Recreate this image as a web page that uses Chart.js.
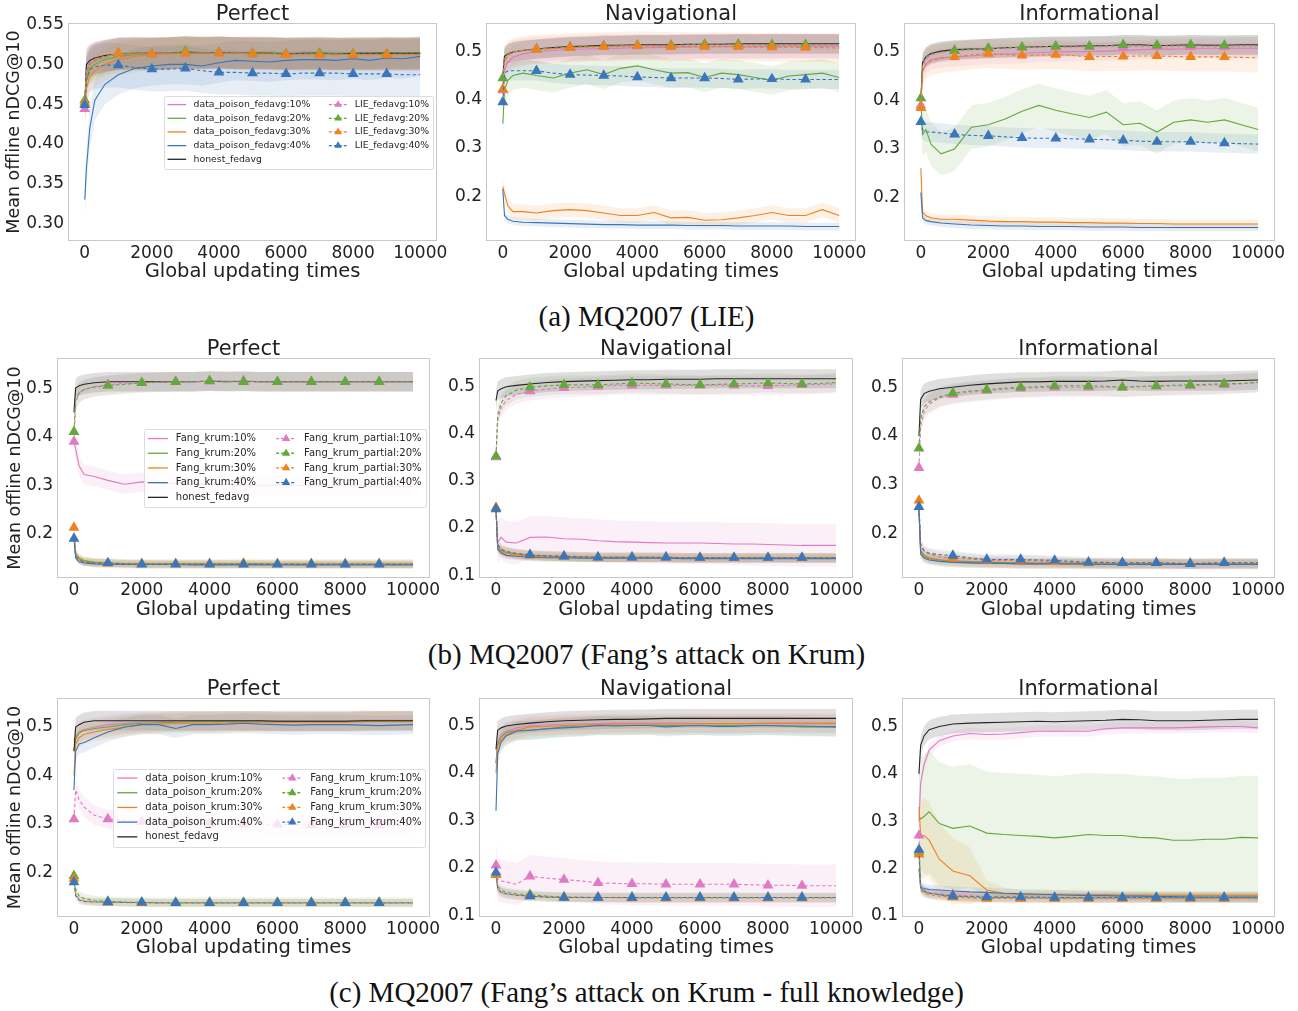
<!DOCTYPE html>
<html>
<head>
<meta charset="utf-8">
<script src="https://cdn.jsdelivr.net/npm/chart.js@4.4.0/dist/chart.umd.min.js"></script>
<style>
  body { margin: 0; background: #fff; }
  #page { position: relative; width: 1298px; height: 1011px; overflow: hidden; background: #fff; }
  #page canvas { position: absolute; }
  .cap { position: absolute; left: 0; width: 1293px; text-align: center; font-family: 'Liberation Serif', 'Times New Roman', serif; font-size: 29px; line-height: 34px; color: #111; }
</style>
</head>
<body>
<div id="page">
  <div class="cap" style="top:299px">(a) MQ2007 (LIE)</div>
  <div class="cap" style="top:637px">(b) MQ2007 (Fang’s attack on Krum)</div>
  <div class="cap" style="top:975px">(c) MQ2007 (Fang’s attack on Krum - full knowledge)</div>
</div>
<script>
// x positions (global updating times) shared by every series
const steps = [0, 50, 150, 300, 600, 1000, 1500, 2000, 2500, 3000, 3500, 4000, 4500, 5000, 5500, 6000, 6500, 7000, 7500, 8000, 8500, 9000, 9500, 10000];
const xTicks = [0, 2000, 4000, 6000, 8000, 10000];
const yTicksA1 = [0.30, 0.35, 0.40, 0.45, 0.50, 0.55];
const yTicks2 = [0.2, 0.3, 0.4, 0.5];
const yTicks1 = [0.1, 0.2, 0.3, 0.4, 0.5];
const rates = ['10%', '20%', '30%', '40%'];
const panelTitles = ['Perfect', 'Navigational', 'Informational'];
const honestName = 'honest_fedavg';
const namesA = ['data_poison_fedavg', 'LIE_fedavg'];
const namesB = ['Fang_krum', 'Fang_krum_partial'];
const namesC = ['data_poison_krum', 'Fang_krum_krum'];

// ---- (a) LIE : Perfect
const a1_s10 = [0.450, 0.495, 0.503, 0.508, 0.511, 0.513, 0.514, 0.514, 0.514, 0.515, 0.514, 0.515, 0.515, 0.515, 0.514, 0.514, 0.514, 0.513, 0.513, 0.513, 0.514, 0.514, 0.514, 0.514];
const a1_s20 = [0.455, 0.480, 0.495, 0.500, 0.506, 0.510, 0.512, 0.513, 0.514, 0.516, 0.515, 0.515, 0.514, 0.515, 0.515, 0.514, 0.514, 0.515, 0.514, 0.514, 0.514, 0.515, 0.514, 0.515];
const a1_s30 = [0.440, 0.470, 0.485, 0.492, 0.500, 0.506, 0.510, 0.512, 0.513, 0.514, 0.514, 0.515, 0.514, 0.514, 0.514, 0.513, 0.513, 0.513, 0.514, 0.513, 0.513, 0.513, 0.513, 0.513];
const a1_s40 = [0.330, 0.370, 0.420, 0.455, 0.475, 0.487, 0.495, 0.498, 0.500, 0.500, 0.498, 0.502, 0.505, 0.504, 0.503, 0.505, 0.506, 0.506, 0.505, 0.507, 0.505, 0.508, 0.507, 0.510];
const a1_h   = [0.450, 0.500, 0.505, 0.508, 0.511, 0.513, 0.514, 0.514, 0.514, 0.515, 0.514, 0.515, 0.514, 0.514, 0.514, 0.513, 0.514, 0.514, 0.513, 0.514, 0.514, 0.514, 0.514, 0.514];
const a1_d10 = [0.444, 0.495, 0.503, 0.507, 0.510, 0.513, 0.513, 0.513, 0.514, 0.514, 0.514, 0.514, 0.514, 0.513, 0.513, 0.513, 0.513, 0.513, 0.513, 0.512, 0.512, 0.512, 0.512, 0.512];
const a1_d20 = [0.455, 0.490, 0.500, 0.505, 0.509, 0.514, 0.514, 0.513, 0.514, 0.516, 0.515, 0.515, 0.514, 0.514, 0.514, 0.513, 0.513, 0.514, 0.513, 0.513, 0.513, 0.513, 0.513, 0.513];
const a1_d30 = [0.452, 0.488, 0.498, 0.504, 0.509, 0.514, 0.514, 0.513, 0.514, 0.514, 0.514, 0.514, 0.514, 0.513, 0.513, 0.512, 0.512, 0.512, 0.512, 0.512, 0.512, 0.512, 0.512, 0.512];
const a1_d40 = [0.449, 0.480, 0.493, 0.497, 0.499, 0.499, 0.496, 0.494, 0.494, 0.495, 0.492, 0.490, 0.490, 0.489, 0.489, 0.488, 0.489, 0.489, 0.489, 0.488, 0.488, 0.488, 0.487, 0.487];
const a1_sd  = [0.02, 0.02, 0.02, 0.025, 0.02, 0.02, 0.02, 0.02, 0.028];

// ---- (a) LIE : Navigational
const a2_s10 = [0.440, 0.460, 0.478, 0.488, 0.495, 0.500, 0.502, 0.504, 0.505, 0.506, 0.507, 0.508, 0.508, 0.509, 0.509, 0.510, 0.510, 0.510, 0.510, 0.511, 0.511, 0.511, 0.511, 0.511];
const a2_s20 = [0.350, 0.420, 0.440, 0.450, 0.455, 0.450, 0.445, 0.455, 0.462, 0.452, 0.465, 0.470, 0.462, 0.455, 0.456, 0.446, 0.455, 0.452, 0.446, 0.440, 0.449, 0.452, 0.455, 0.446];
const a2_s30 = [0.220, 0.205, 0.180, 0.168, 0.168, 0.165, 0.170, 0.172, 0.170, 0.165, 0.160, 0.160, 0.166, 0.155, 0.156, 0.150, 0.151, 0.155, 0.160, 0.166, 0.160, 0.160, 0.172, 0.160];
const a2_s40 = [0.215, 0.160, 0.152, 0.148, 0.146, 0.145, 0.144, 0.143, 0.142, 0.141, 0.141, 0.140, 0.140, 0.140, 0.139, 0.139, 0.139, 0.138, 0.138, 0.138, 0.138, 0.137, 0.137, 0.137];
const a2_h   = [0.450, 0.490, 0.495, 0.499, 0.502, 0.505, 0.508, 0.510, 0.511, 0.513, 0.513, 0.514, 0.514, 0.514, 0.515, 0.515, 0.515, 0.516, 0.516, 0.516, 0.516, 0.516, 0.516, 0.516];
const a2_d10 = [0.420, 0.480, 0.492, 0.498, 0.502, 0.505, 0.506, 0.508, 0.509, 0.510, 0.510, 0.511, 0.511, 0.511, 0.511, 0.511, 0.511, 0.511, 0.511, 0.511, 0.511, 0.511, 0.511, 0.510];
const a2_d20 = [0.445, 0.485, 0.494, 0.500, 0.503, 0.505, 0.507, 0.509, 0.510, 0.511, 0.512, 0.513, 0.513, 0.513, 0.514, 0.515, 0.515, 0.515, 0.514, 0.514, 0.514, 0.514, 0.514, 0.514];
const a2_d30 = [0.422, 0.480, 0.492, 0.498, 0.502, 0.504, 0.506, 0.508, 0.509, 0.510, 0.511, 0.512, 0.511, 0.510, 0.510, 0.510, 0.510, 0.510, 0.509, 0.509, 0.509, 0.508, 0.508, 0.507];
const a2_d40 = [0.395, 0.455, 0.460, 0.460, 0.460, 0.460, 0.455, 0.452, 0.451, 0.450, 0.449, 0.447, 0.446, 0.445, 0.445, 0.445, 0.444, 0.442, 0.443, 0.443, 0.442, 0.442, 0.442, 0.442];
const a2_sd  = [0.025, 0.03, 0.015, 0.008, 0.02, 0.025, 0.02, 0.03, 0.02];

// ---- (a) LIE : Informational
const a3_s10 = [0.390, 0.460, 0.475, 0.484, 0.488, 0.490, 0.492, 0.495, 0.496, 0.497, 0.499, 0.500, 0.501, 0.501, 0.502, 0.503, 0.505, 0.506, 0.506, 0.507, 0.508, 0.508, 0.508, 0.508];
const a3_s20 = [0.400, 0.330, 0.340, 0.310, 0.290, 0.300, 0.345, 0.350, 0.362, 0.378, 0.390, 0.380, 0.372, 0.365, 0.376, 0.350, 0.353, 0.335, 0.355, 0.360, 0.355, 0.360, 0.350, 0.340];
const a3_s30 = [0.260, 0.170, 0.162, 0.158, 0.155, 0.155, 0.153, 0.151, 0.150, 0.150, 0.149, 0.149, 0.148, 0.148, 0.147, 0.147, 0.146, 0.146, 0.145, 0.145, 0.145, 0.145, 0.145, 0.145];
const a3_s40 = [0.210, 0.158, 0.152, 0.150, 0.147, 0.145, 0.143, 0.142, 0.141, 0.141, 0.140, 0.140, 0.140, 0.139, 0.139, 0.139, 0.138, 0.138, 0.138, 0.138, 0.138, 0.138, 0.138, 0.138];
const a3_h   = [0.400, 0.478, 0.490, 0.497, 0.502, 0.505, 0.506, 0.507, 0.509, 0.510, 0.511, 0.512, 0.512, 0.513, 0.513, 0.515, 0.515, 0.513, 0.514, 0.515, 0.514, 0.514, 0.515, 0.515];
const a3_d10 = [0.390, 0.470, 0.485, 0.495, 0.500, 0.503, 0.505, 0.507, 0.508, 0.509, 0.510, 0.510, 0.510, 0.511, 0.511, 0.511, 0.511, 0.511, 0.511, 0.511, 0.511, 0.511, 0.511, 0.511];
const a3_d20 = [0.405, 0.480, 0.490, 0.495, 0.500, 0.503, 0.506, 0.508, 0.509, 0.510, 0.511, 0.512, 0.512, 0.512, 0.513, 0.515, 0.514, 0.514, 0.514, 0.515, 0.515, 0.514, 0.514, 0.514];
const a3_d30 = [0.385, 0.460, 0.475, 0.482, 0.487, 0.490, 0.494, 0.497, 0.495, 0.493, 0.494, 0.495, 0.493, 0.490, 0.491, 0.491, 0.492, 0.492, 0.491, 0.490, 0.490, 0.490, 0.489, 0.488];
const a3_d40 = [0.356, 0.340, 0.335, 0.335, 0.333, 0.330, 0.328, 0.327, 0.325, 0.323, 0.322, 0.322, 0.321, 0.320, 0.319, 0.318, 0.316, 0.315, 0.315, 0.315, 0.313, 0.312, 0.311, 0.310];
const a3_sd  = [0.02, 0.045, 0.01, 0.008, 0.02, 0.02, 0.02, 0.03, 0.02];

// ---- (b) Fang on Krum : Perfect
const b1_s10 = [0.390, 0.375, 0.340, 0.322, 0.318, 0.310, 0.302, 0.307, 0.304, 0.303, 0.302, 0.302, 0.301, 0.300, 0.300, 0.300, 0.300, 0.299, 0.299, 0.299, 0.299, 0.298, 0.298, 0.298];
const b1_s20 = [0.200, 0.160, 0.150, 0.145, 0.142, 0.140, 0.139, 0.138, 0.138, 0.138, 0.138, 0.138, 0.138, 0.138, 0.138, 0.137, 0.137, 0.137, 0.137, 0.137, 0.137, 0.137, 0.137, 0.137];
const b1_s30 = [0.200, 0.155, 0.148, 0.143, 0.140, 0.139, 0.138, 0.138, 0.137, 0.137, 0.137, 0.137, 0.137, 0.137, 0.137, 0.137, 0.137, 0.137, 0.137, 0.137, 0.137, 0.137, 0.137, 0.137];
const b1_s40 = [0.190, 0.150, 0.143, 0.140, 0.138, 0.137, 0.137, 0.137, 0.137, 0.137, 0.136, 0.136, 0.136, 0.136, 0.136, 0.136, 0.136, 0.136, 0.136, 0.136, 0.136, 0.136, 0.136, 0.136];
const b1_h   = [0.450, 0.500, 0.505, 0.508, 0.511, 0.513, 0.513, 0.513, 0.513, 0.513, 0.513, 0.514, 0.513, 0.514, 0.513, 0.513, 0.513, 0.513, 0.513, 0.513, 0.513, 0.513, 0.513, 0.513];
const b1_d10 = [0.390, 0.470, 0.490, 0.497, 0.503, 0.507, 0.510, 0.511, 0.512, 0.513, 0.513, 0.514, 0.514, 0.515, 0.513, 0.513, 0.513, 0.513, 0.513, 0.513, 0.513, 0.513, 0.513, 0.513];
const b1_d20 = [0.410, 0.475, 0.490, 0.497, 0.502, 0.505, 0.508, 0.511, 0.512, 0.513, 0.513, 0.515, 0.514, 0.513, 0.513, 0.513, 0.513, 0.513, 0.513, 0.513, 0.513, 0.513, 0.513, 0.513];
const b1_d30 = [0.213, 0.160, 0.148, 0.143, 0.140, 0.139, 0.138, 0.138, 0.138, 0.138, 0.138, 0.138, 0.138, 0.139, 0.138, 0.138, 0.138, 0.138, 0.138, 0.138, 0.138, 0.138, 0.138, 0.138];
const b1_d40 = [0.190, 0.155, 0.146, 0.142, 0.140, 0.140, 0.138, 0.137, 0.137, 0.137, 0.137, 0.137, 0.137, 0.137, 0.137, 0.137, 0.137, 0.137, 0.137, 0.137, 0.137, 0.137, 0.137, 0.137];
const b1_sd  = [0.02, 0.008, 0.008, 0.006, 0.02, 0.02, 0.02, 0.01, 0.008];

// ---- (b) Fang on Krum : Navigational
const b2_s10 = [0.240, 0.170, 0.180, 0.170, 0.168, 0.180, 0.181, 0.177, 0.176, 0.173, 0.171, 0.170, 0.169, 0.168, 0.168, 0.168, 0.167, 0.166, 0.166, 0.165, 0.164, 0.163, 0.163, 0.163];
const b2_s20 = [0.240, 0.160, 0.152, 0.148, 0.145, 0.142, 0.140, 0.139, 0.138, 0.138, 0.138, 0.138, 0.138, 0.137, 0.137, 0.137, 0.137, 0.137, 0.137, 0.137, 0.137, 0.137, 0.137, 0.137];
const b2_s30 = [0.240, 0.158, 0.150, 0.146, 0.143, 0.140, 0.139, 0.138, 0.138, 0.137, 0.137, 0.137, 0.137, 0.137, 0.137, 0.136, 0.136, 0.136, 0.136, 0.136, 0.136, 0.136, 0.136, 0.136];
const b2_s40 = [0.240, 0.155, 0.147, 0.142, 0.140, 0.138, 0.137, 0.137, 0.136, 0.136, 0.136, 0.136, 0.136, 0.136, 0.135, 0.135, 0.135, 0.135, 0.135, 0.135, 0.135, 0.135, 0.135, 0.135];
const b2_h   = [0.470, 0.490, 0.495, 0.499, 0.502, 0.505, 0.508, 0.510, 0.511, 0.512, 0.513, 0.514, 0.514, 0.515, 0.515, 0.515, 0.516, 0.516, 0.516, 0.516, 0.516, 0.516, 0.516, 0.516];
const b2_d10 = [0.350, 0.430, 0.455, 0.470, 0.483, 0.490, 0.494, 0.497, 0.498, 0.500, 0.502, 0.502, 0.502, 0.502, 0.502, 0.502, 0.502, 0.502, 0.501, 0.501, 0.502, 0.503, 0.504, 0.505];
const b2_d20 = [0.352, 0.440, 0.465, 0.480, 0.492, 0.498, 0.501, 0.503, 0.503, 0.503, 0.505, 0.507, 0.506, 0.505, 0.504, 0.503, 0.504, 0.505, 0.506, 0.507, 0.506, 0.505, 0.506, 0.508];
const b2_d30 = [0.243, 0.165, 0.155, 0.150, 0.145, 0.142, 0.141, 0.140, 0.139, 0.138, 0.138, 0.138, 0.138, 0.138, 0.137, 0.137, 0.137, 0.137, 0.137, 0.137, 0.137, 0.137, 0.137, 0.137];
const b2_d40 = [0.240, 0.165, 0.155, 0.150, 0.146, 0.143, 0.141, 0.140, 0.139, 0.138, 0.138, 0.138, 0.138, 0.138, 0.137, 0.137, 0.137, 0.137, 0.137, 0.137, 0.137, 0.137, 0.137, 0.137];
const b2_sd  = [0.045, 0.01, 0.01, 0.008, 0.02, 0.02, 0.02, 0.01, 0.01];

// ---- (b) Fang on Krum : Informational
const b3_s10 = [0.250, 0.165, 0.155, 0.150, 0.147, 0.145, 0.143, 0.142, 0.141, 0.140, 0.140, 0.140, 0.139, 0.139, 0.139, 0.139, 0.138, 0.138, 0.138, 0.138, 0.138, 0.138, 0.138, 0.138];
const b3_s20 = [0.250, 0.165, 0.155, 0.150, 0.146, 0.143, 0.142, 0.141, 0.140, 0.140, 0.139, 0.139, 0.139, 0.139, 0.138, 0.138, 0.138, 0.138, 0.138, 0.138, 0.138, 0.138, 0.138, 0.138];
const b3_s30 = [0.250, 0.160, 0.152, 0.148, 0.144, 0.142, 0.140, 0.139, 0.139, 0.138, 0.138, 0.138, 0.138, 0.137, 0.137, 0.137, 0.137, 0.137, 0.137, 0.137, 0.137, 0.137, 0.137, 0.137];
const b3_s40 = [0.250, 0.158, 0.150, 0.146, 0.143, 0.141, 0.140, 0.139, 0.139, 0.138, 0.138, 0.138, 0.138, 0.138, 0.137, 0.137, 0.137, 0.137, 0.137, 0.137, 0.137, 0.137, 0.137, 0.137];
const b3_h   = [0.400, 0.475, 0.487, 0.492, 0.497, 0.500, 0.504, 0.507, 0.509, 0.511, 0.511, 0.512, 0.512, 0.512, 0.513, 0.515, 0.513, 0.512, 0.513, 0.513, 0.513, 0.513, 0.514, 0.515];
const b3_d10 = [0.335, 0.420, 0.450, 0.465, 0.478, 0.485, 0.490, 0.493, 0.496, 0.498, 0.499, 0.500, 0.500, 0.500, 0.500, 0.500, 0.501, 0.502, 0.503, 0.503, 0.504, 0.505, 0.507, 0.510];
const b3_d20 = [0.375, 0.435, 0.460, 0.470, 0.480, 0.488, 0.492, 0.495, 0.498, 0.500, 0.501, 0.503, 0.503, 0.503, 0.502, 0.500, 0.502, 0.503, 0.504, 0.505, 0.506, 0.507, 0.508, 0.510];
const b3_d30 = [0.268, 0.180, 0.165, 0.158, 0.152, 0.150, 0.148, 0.145, 0.145, 0.145, 0.144, 0.142, 0.141, 0.140, 0.140, 0.140, 0.140, 0.140, 0.140, 0.139, 0.140, 0.140, 0.140, 0.140];
const b3_d40 = [0.255, 0.175, 0.165, 0.160, 0.157, 0.155, 0.150, 0.147, 0.147, 0.147, 0.146, 0.145, 0.143, 0.141, 0.141, 0.140, 0.140, 0.140, 0.139, 0.138, 0.139, 0.140, 0.140, 0.140];
const b3_sd  = [0.01, 0.01, 0.01, 0.01, 0.02, 0.02, 0.02, 0.01, 0.01];

// ---- (c) Fang on Krum, full knowledge : Perfect
const c1_s10 = [0.470, 0.480, 0.490, 0.495, 0.500, 0.505, 0.508, 0.510, 0.511, 0.512, 0.512, 0.512, 0.513, 0.513, 0.513, 0.513, 0.513, 0.513, 0.513, 0.513, 0.514, 0.514, 0.514, 0.514];
const c1_s20 = [0.450, 0.475, 0.488, 0.493, 0.497, 0.500, 0.505, 0.508, 0.509, 0.510, 0.511, 0.511, 0.512, 0.512, 0.512, 0.512, 0.512, 0.512, 0.512, 0.512, 0.512, 0.513, 0.513, 0.513];
const c1_s30 = [0.400, 0.465, 0.478, 0.485, 0.490, 0.495, 0.500, 0.505, 0.506, 0.507, 0.508, 0.508, 0.509, 0.510, 0.510, 0.510, 0.510, 0.510, 0.510, 0.510, 0.511, 0.511, 0.511, 0.511];
const c1_s40 = [0.370, 0.450, 0.465, 0.468, 0.478, 0.490, 0.500, 0.505, 0.505, 0.497, 0.505, 0.505, 0.506, 0.508, 0.506, 0.505, 0.504, 0.505, 0.505, 0.505, 0.504, 0.503, 0.504, 0.505];
const c1_h   = [0.450, 0.500, 0.505, 0.510, 0.513, 0.513, 0.513, 0.513, 0.513, 0.513, 0.513, 0.513, 0.513, 0.513, 0.513, 0.512, 0.512, 0.512, 0.512, 0.512, 0.513, 0.513, 0.513, 0.513];
const c1_d10 = [0.310, 0.370, 0.350, 0.335, 0.318, 0.310, 0.307, 0.305, 0.304, 0.303, 0.302, 0.301, 0.300, 0.300, 0.300, 0.299, 0.299, 0.298, 0.298, 0.298, 0.297, 0.297, 0.297, 0.297];
const c1_d20 = [0.193, 0.165, 0.152, 0.146, 0.142, 0.140, 0.139, 0.138, 0.138, 0.138, 0.138, 0.138, 0.138, 0.138, 0.138, 0.138, 0.138, 0.138, 0.138, 0.138, 0.138, 0.138, 0.138, 0.138];
const c1_d30 = [0.187, 0.155, 0.145, 0.141, 0.139, 0.138, 0.138, 0.137, 0.137, 0.137, 0.137, 0.137, 0.137, 0.137, 0.137, 0.137, 0.137, 0.137, 0.137, 0.137, 0.137, 0.137, 0.137, 0.137];
const c1_d40 = [0.180, 0.152, 0.143, 0.140, 0.139, 0.139, 0.138, 0.138, 0.137, 0.137, 0.137, 0.137, 0.137, 0.137, 0.137, 0.137, 0.137, 0.137, 0.137, 0.137, 0.137, 0.137, 0.137, 0.137];
const c1_sd  = [0.02, 0.02, 0.02, 0.02, 0.02, 0.02, 0.01, 0.008, 0.008];

// ---- (c) Fang on Krum, full knowledge : Navigational
const c2_s10 = [0.420, 0.465, 0.480, 0.488, 0.495, 0.500, 0.501, 0.503, 0.503, 0.504, 0.505, 0.505, 0.505, 0.505, 0.505, 0.504, 0.504, 0.504, 0.504, 0.504, 0.504, 0.504, 0.503, 0.503];
const c2_s20 = [0.420, 0.460, 0.475, 0.485, 0.490, 0.490, 0.493, 0.497, 0.498, 0.500, 0.500, 0.500, 0.501, 0.500, 0.500, 0.500, 0.500, 0.500, 0.499, 0.500, 0.499, 0.497, 0.497, 0.497];
const c2_s30 = [0.400, 0.455, 0.470, 0.480, 0.490, 0.497, 0.498, 0.500, 0.501, 0.502, 0.503, 0.503, 0.503, 0.503, 0.503, 0.504, 0.504, 0.504, 0.504, 0.505, 0.505, 0.505, 0.505, 0.505];
const c2_s40 = [0.320, 0.440, 0.465, 0.478, 0.488, 0.490, 0.493, 0.495, 0.497, 0.500, 0.499, 0.500, 0.500, 0.497, 0.499, 0.500, 0.498, 0.498, 0.500, 0.500, 0.499, 0.499, 0.498, 0.497];
const c2_h   = [0.450, 0.490, 0.495, 0.499, 0.502, 0.505, 0.508, 0.510, 0.511, 0.512, 0.513, 0.513, 0.514, 0.515, 0.515, 0.515, 0.515, 0.515, 0.515, 0.515, 0.515, 0.515, 0.515, 0.515];
const c2_d10 = [0.205, 0.175, 0.172, 0.170, 0.165, 0.182, 0.178, 0.175, 0.172, 0.168, 0.167, 0.166, 0.166, 0.165, 0.165, 0.165, 0.165, 0.165, 0.164, 0.163, 0.163, 0.162, 0.162, 0.162];
const c2_d20 = [0.185, 0.160, 0.153, 0.148, 0.145, 0.143, 0.140, 0.138, 0.138, 0.137, 0.137, 0.137, 0.137, 0.137, 0.137, 0.137, 0.137, 0.137, 0.137, 0.137, 0.137, 0.137, 0.137, 0.137];
const c2_d30 = [0.185, 0.155, 0.148, 0.145, 0.142, 0.140, 0.138, 0.137, 0.137, 0.137, 0.137, 0.136, 0.136, 0.136, 0.136, 0.136, 0.136, 0.136, 0.136, 0.136, 0.136, 0.136, 0.136, 0.136];
const c2_d40 = [0.190, 0.155, 0.148, 0.145, 0.142, 0.140, 0.138, 0.137, 0.137, 0.137, 0.137, 0.137, 0.137, 0.137, 0.137, 0.137, 0.137, 0.137, 0.137, 0.137, 0.137, 0.137, 0.137, 0.137];
const c2_sd  = [0.02, 0.02, 0.02, 0.02, 0.02, 0.045, 0.01, 0.01, 0.01];

// ---- (c) Fang on Krum, full knowledge : Informational
const c3_s10 = [0.300, 0.380, 0.420, 0.450, 0.470, 0.480, 0.485, 0.483, 0.484, 0.487, 0.490, 0.490, 0.490, 0.490, 0.495, 0.497, 0.497, 0.497, 0.497, 0.498, 0.499, 0.500, 0.500, 0.497];
const c3_s20 = [0.310, 0.305, 0.310, 0.320, 0.295, 0.285, 0.290, 0.275, 0.272, 0.270, 0.268, 0.265, 0.268, 0.272, 0.270, 0.270, 0.266, 0.265, 0.260, 0.260, 0.262, 0.262, 0.266, 0.265];
const c3_s30 = [0.330, 0.270, 0.270, 0.260, 0.220, 0.195, 0.185, 0.155, 0.148, 0.145, 0.145, 0.145, 0.145, 0.145, 0.145, 0.144, 0.144, 0.143, 0.143, 0.143, 0.143, 0.143, 0.143, 0.143];
const c3_s40 = [0.200, 0.160, 0.158, 0.156, 0.155, 0.153, 0.151, 0.150, 0.148, 0.147, 0.146, 0.145, 0.144, 0.143, 0.143, 0.142, 0.142, 0.141, 0.141, 0.140, 0.140, 0.140, 0.140, 0.140];
const c3_h   = [0.400, 0.460, 0.480, 0.493, 0.500, 0.505, 0.507, 0.508, 0.509, 0.510, 0.511, 0.510, 0.511, 0.512, 0.513, 0.515, 0.514, 0.512, 0.512, 0.512, 0.513, 0.514, 0.515, 0.515];
const c3_d10 = [0.270, 0.165, 0.155, 0.150, 0.147, 0.145, 0.143, 0.141, 0.140, 0.139, 0.139, 0.139, 0.139, 0.138, 0.138, 0.138, 0.138, 0.138, 0.138, 0.138, 0.138, 0.138, 0.138, 0.138];
const c3_d20 = [0.235, 0.160, 0.152, 0.148, 0.145, 0.142, 0.140, 0.139, 0.139, 0.138, 0.138, 0.138, 0.138, 0.138, 0.138, 0.138, 0.138, 0.138, 0.138, 0.138, 0.138, 0.138, 0.138, 0.138];
const c3_d30 = [0.230, 0.155, 0.148, 0.145, 0.142, 0.140, 0.138, 0.137, 0.137, 0.137, 0.137, 0.137, 0.137, 0.137, 0.137, 0.137, 0.137, 0.137, 0.137, 0.137, 0.137, 0.137, 0.137, 0.137];
const c3_d40 = [0.240, 0.160, 0.152, 0.148, 0.145, 0.142, 0.141, 0.140, 0.140, 0.140, 0.140, 0.139, 0.139, 0.139, 0.139, 0.139, 0.139, 0.139, 0.139, 0.139, 0.139, 0.139, 0.139, 0.139];
const c3_s30_sd = [0.06, 0.07, 0.08, 0.08, 0.075, 0.07, 0.06, 0.02, 0.012, 0.01, 0.01, 0.01, 0.01, 0.01, 0.01, 0.01, 0.01, 0.01, 0.01, 0.01, 0.01, 0.01, 0.01, 0.01];
const c3_sd  = [0.012, 0.13, c3_s30_sd, 0.01, 0.02, 0.01, 0.01, 0.01, 0.01];

const colors = ['#e07ac4', '#64a83c', '#f0821e', '#3a76b9'];
const honestColor = '#262626';
const FONT = "'DejaVu Sans', sans-serif";
Chart.defaults.font.family = FONT;

// panel layout: plot-area box in page pixels [left, right, top, bottom]
const panels = [
  { names: namesA, col: 0, solid: [a1_s10, a1_s20, a1_s30, a1_s40], honest: a1_h, dashed: [a1_d10, a1_d20, a1_d30, a1_d40], sd: a1_sd, yMin: 0.278, yMax: 0.552, yTicks: yTicksA1, dec: 2, legend: 9.3, box: [68, 437, 23, 241], xTitleY: 270, yTitlePad: 3.5 },
  { names: namesA, col: 1, solid: [a2_s10, a2_s20, a2_s30, a2_s40], honest: a2_h, dashed: [a2_d10, a2_d20, a2_d30, a2_d40], sd: a2_sd, yMin: 0.107, yMax: 0.559, yTicks: yTicks2, dec: 1, box: [486, 856, 23, 241], xTitleY: 270 },
  { names: namesA, col: 2, solid: [a3_s10, a3_s20, a3_s30, a3_s40], honest: a3_h, dashed: [a3_d10, a3_d20, a3_d30, a3_d40], sd: a3_sd, yMin: 0.110, yMax: 0.560, yTicks: yTicks2, dec: 1, box: [904, 1275, 23, 241], xTitleY: 270 },
  { names: namesB, col: 0, solid: [b1_s10, b1_s20, b1_s30, b1_s40], honest: b1_h, dashed: [b1_d10, b1_d20, b1_d30, b1_d40], sd: b1_sd, yMin: 0.109, yMax: 0.562, yTicks: yTicks2, dec: 1, legend: 10, box: [57, 430, 358, 578], xTitleY: 608.5, yTitlePad: 4.5 },
  { names: namesB, col: 1, solid: [b2_s10, b2_s20, b2_s30, b2_s40], honest: b2_h, dashed: [b2_d10, b2_d20, b2_d30, b2_d40], sd: b2_sd, yMin: 0.094, yMax: 0.560, yTicks: yTicks1, dec: 1, box: [479, 853, 358, 578], xTitleY: 608.5 },
  { names: namesB, col: 2, solid: [b3_s10, b3_s20, b3_s30, b3_s40], honest: b3_h, dashed: [b3_d10, b3_d20, b3_d30, b3_d40], sd: b3_sd, yMin: 0.109, yMax: 0.560, yTicks: yTicks2, dec: 1, box: [902, 1275, 358, 578], xTitleY: 608.5 },
  { names: namesC, col: 0, solid: [c1_s10, c1_s20, c1_s30, c1_s40], honest: c1_h, dashed: [c1_d10, c1_d20, c1_d30, c1_d40], sd: c1_sd, yMin: 0.108, yMax: 0.560, yTicks: yTicks2, dec: 1, legend: 10, box: [57, 430, 698, 917], xTitleY: 946.5, yTitlePad: 4.5 },
  { names: namesC, col: 1, solid: [c2_s10, c2_s20, c2_s30, c2_s40], honest: c2_h, dashed: [c2_d10, c2_d20, c2_d30, c2_d40], sd: c2_sd, yMin: 0.096, yMax: 0.558, yTicks: yTicks1, dec: 1, box: [479, 853, 698, 917], xTitleY: 946.5 },
  { names: namesC, col: 2, solid: [c3_s10, c3_s20, c3_s30, c3_s40], honest: c3_h, dashed: [c3_d10, c3_d20, c3_d30, c3_d40], sd: c3_sd, yMin: 0.098, yMax: 0.560, yTicks: yTicks1, dec: 1, box: [902, 1275, 698, 917], xTitleY: 946.5 }
];

function rgba(hex, a) {
  const n = parseInt(hex.slice(1), 16);
  return `rgba(${n >> 16}, ${(n >> 8) & 255}, ${n & 255}, ${a})`;
}

function isMark(i) {
  return steps[i] % 1000 === 0 && steps[i] < 10000;
}

function triangle(ctx, x, y, r) {
  ctx.beginPath();
  ctx.moveTo(x, y - r);
  ctx.lineTo(x + r * 0.866, y + r * 0.5);
  ctx.lineTo(x - r * 0.866, y + r * 0.5);
  ctx.closePath();
  ctx.fill();
}

function drawLegend(chart, series, fs) {
  const ctx = chart.ctx, a = chart.chartArea;
  ctx.save();
  ctx.font = fs + 'px ' + FONT;
  const col1 = series.slice(0, 5), col2 = series.slice(5);
  const w1 = Math.max(...col1.map(s => ctx.measureText(s.label).width));
  const w2 = Math.max(...col2.map(s => ctx.measureText(s.label).width));
  const pad = 0.4 * fs, hl = 2 * fs, htp = 0.8 * fs, cs = 2 * fs, pitch = 1.47 * fs;
  const W = pad + hl + htp + w1 + cs + hl + htp + w2 + pad;
  const H = 5 * pitch + 0.45 * fs;
  const right = a.right - 0.45 * fs;
  const left = right - W;
  const top = (a.top + a.bottom) / 2 - H / 2;
  ctx.fillStyle = 'rgba(255,255,255,0.8)';
  ctx.strokeStyle = '#dcdcdc';
  ctx.lineWidth = 1;
  ctx.beginPath();
  ctx.roundRect(Math.round(left) + 0.5, Math.round(top) + 0.5, Math.round(W), Math.round(H), 2);
  ctx.fill();
  ctx.stroke();
  series.forEach((s, k) => {
    const c = k < 5 ? 0 : 1, r = k < 5 ? k : k - 5;
    const x0 = left + pad + (c ? hl + htp + w1 + cs : 0);
    const y = top + 0.22 * fs + pitch * (r + 0.5);
    ctx.strokeStyle = s.color;
    ctx.lineWidth = 1.3;
    ctx.setLineDash(s.dashed ? [3, 2] : []);
    ctx.beginPath();
    ctx.moveTo(x0, y);
    ctx.lineTo(x0 + hl, y);
    ctx.stroke();
    ctx.setLineDash([]);
    if (s.dashed) {
      ctx.fillStyle = s.color;
      triangle(ctx, x0 + hl / 2, y, 0.48 * fs);
    }
    ctx.fillStyle = '#262626';
    ctx.textBaseline = 'middle';
    ctx.textAlign = 'left';
    ctx.fillText(s.label, x0 + hl + htp, y);
  });
  ctx.restore();
}

function makePanel(p) {
  const [pl, pr, pt, pb] = p.box;
  const yW = p.col === 0 ? pl : 42;
  const topPad = 22;
  const cLeft = pl - yW;
  const cTop = pt - topPad;
  const cBottom = Math.round(p.xTitleY + 19.5 * 1.2 / 2) + 2;
  const xH = cBottom - pb;
  const padR = 34;
  const width = pr - cLeft + padR;
  const height = cBottom - cTop;

  const canvas = document.createElement('canvas');
  canvas.width = width;
  canvas.height = height;
  canvas.style.left = cLeft + 'px';
  canvas.style.top = cTop + 'px';
  canvas.style.width = width + 'px';
  canvas.style.height = height + 'px';
  document.getElementById('page').appendChild(canvas);

  const series = [
    ...p.solid.map((d, i) => ({ data: d, color: colors[i], dashed: false, label: p.names[0] + ':' + rates[i] })),
    { data: p.honest, color: honestColor, dashed: false, label: honestName },
    ...p.dashed.map((d, i) => ({ data: d, color: colors[i], dashed: true, label: p.names[1] + ':' + rates[i] }))
  ];

  const datasets = [];
  // shaded spread bands first
  series.forEach((s, k) => {
    const sd = p.sd[k];
    const dev = i => Array.isArray(sd) ? sd[i] : sd;
    datasets.push({ data: steps.map((x, i) => ({ x, y: s.data[i] - dev(i) })), borderWidth: 0, borderColor: 'transparent', pointRadius: 0, fill: false, order: 50 });
    datasets.push({ data: steps.map((x, i) => ({ x, y: s.data[i] + dev(i) })), borderWidth: 0, borderColor: 'transparent', pointRadius: 0, fill: '-1',
      backgroundColor: rgba(s.color, s.color === honestColor ? 0.15 : 0.12), order: 50 });
  });
  series.forEach((s, k) => {
    datasets.push({
      label: s.label,
      data: steps.map((x, i) => ({ x, y: s.data[i] })),
      borderColor: s.color,
      borderWidth: 1.1,
      borderDash: s.dashed ? [3.5, 2.5] : [],
      pointStyle: 'triangle',
      pointRadius: s.dashed ? (c => isMark(c.dataIndex) ? 6.3 : 0) : 0,
      pointBackgroundColor: s.color,
      pointBorderWidth: 0,
      fill: false,
      order: 20 - k
    });
  });

  const frame = {
    id: 'frame',
    afterDatasetsDraw(chart) {
      const { ctx, chartArea: a } = chart;
      ctx.save();
      ctx.strokeStyle = '#c8c8c8';
      ctx.lineWidth = 1;
      ctx.strokeRect(Math.round(a.left) + 0.5, Math.round(a.top) + 0.5, Math.round(a.right - a.left) - 1, Math.round(a.bottom - a.top) - 1);
      // subplot title centred over the plot area
      ctx.fillStyle = '#222';
      ctx.font = '21px ' + FONT;
      ctx.textAlign = 'center';
      ctx.textBaseline = 'alphabetic';
      ctx.fillText(panelTitles[p.col], (a.left + a.right) / 2, a.top - 2.6);
      ctx.restore();
      if (p.legend) drawLegend(chart, series, p.legend);
    }
  };

  new Chart(canvas, {
    type: 'line',
    data: { datasets },
    options: {
      responsive: false,
      animation: false,
      events: [],
      devicePixelRatio: 1,
      layout: { padding: { left: 0, top: topPad, right: padR, bottom: 0 } },
      plugins: {
        legend: { display: false },
        tooltip: { enabled: false },
        title: { display: false }
      },
      scales: {
        x: {
          type: 'linear', min: -500, max: 10500,
          grid: { display: false, drawTicks: false },
          border: { display: false },
          afterBuildTicks: s => { s.ticks = xTicks.map(v => ({ value: v })); },
          afterFit: s => { s.height = xH; },
          ticks: { color: '#222', font: { family: FONT, size: 17 }, padding: 2, maxRotation: 0, autoSkip: false, callback: v => String(v) },
          title: { display: true, text: 'Global updating times', color: '#222', font: { family: FONT, size: 19.5 }, padding: 0 }
        },
        y: {
          min: p.yMin, max: p.yMax,
          grid: { display: false, drawTicks: false },
          border: { display: false },
          afterBuildTicks: s => { s.ticks = p.yTicks.map(v => ({ value: v })); },
          afterFit: s => { s.width = yW; },
          ticks: { color: '#222', font: { family: FONT, size: 17 }, padding: 4, autoSkip: false, callback: v => v.toFixed(p.dec) },
          title: p.col === 0
            ? { display: true, text: 'Mean offline nDCG@10', color: '#222', font: { family: FONT, size: 17.5 }, padding: { top: p.yTitlePad, bottom: 0 } }
            : { display: false }
        }
      }
    },
    plugins: [frame]
  });
}

panels.forEach(makePanel);
</script>
</body>
</html>
